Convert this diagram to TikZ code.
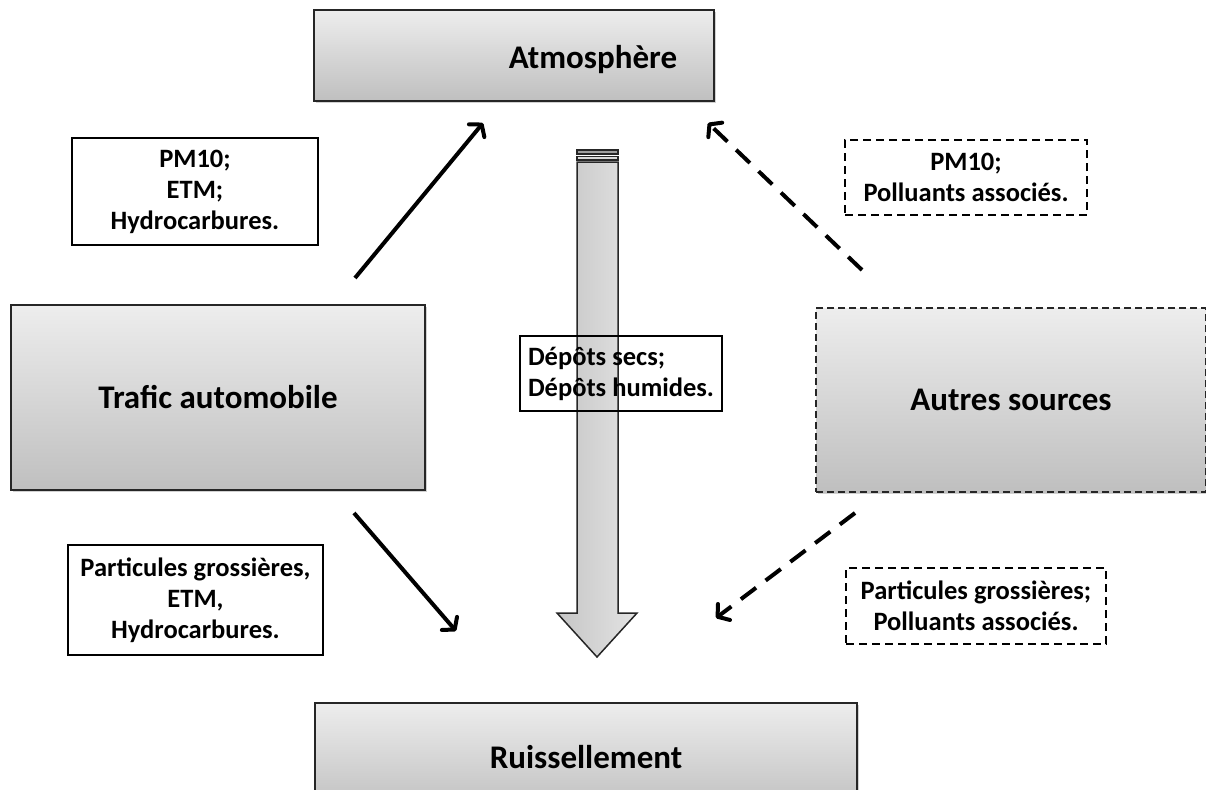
\documentclass[tikz,border=0pt]{standalone}
\usepackage{fontspec}
\setmainfont{Carlito}
\usetikzlibrary{arrows.meta,shadows}

\newcommand\bigfont{\fontsize{33}{38}\selectfont\bfseries}
\newcommand\labfont{\fontsize{26.5}{31}\selectfont\bfseries}

\tikzset{
  mainbox/.style={draw=black!85, line width=1.6pt, top color=gray!14, bottom color=gray!50,
    font=\bigfont, inner sep=0pt,
    drop shadow={shadow xshift=2pt, shadow yshift=-2pt, opacity=0.18, fill=black}},
  labelbox/.style={draw=black, line width=2pt, fill=white, font=\labfont, align=center, inner sep=0pt},
  dashbox/.style={labelbox, dash pattern=on 8pt off 5pt},
  flow/.style={line width=4pt, -{Straight Barb[length=8pt,width=20pt,round]}},
  flowdash/.style={flow, dash pattern=on 19pt off 12pt}
}

\begin{document}
\begin{tikzpicture}[x=1pt,y=-1pt]
\useasboundingbox (0,0) rectangle (1206,789);

% compartments
\node[mainbox, minimum width=400pt, minimum height=91pt,
      label={[font=\bigfont, xshift=79pt, yshift=-4pt]center:Atmosphère}] (atm) at (514,55.5) {};
\node[mainbox, minimum width=414pt, minimum height=185pt] (traf) at (218,397.5) {Trafic automobile};
\node[mainbox, dash pattern=on 7pt off 4pt, line width=1.4pt, minimum width=390pt, minimum height=184pt] (autres) at (1011,400) {Autres sources};
\node[mainbox, minimum width=542pt, minimum height=108pt] (ruis) at (586,757) {Ruissellement};

% flux labels
\node[labelbox, minimum width=246pt, minimum height=107pt] (l1) at (195,191.5) {PM10;\\ETM;\\Hydrocarbures.};
\node[labelbox, minimum width=255pt, minimum height=110pt] (l2) at (195.5,600) {Particules grossières,\\ETM,\\Hydrocarbures.};
\node[dashbox, minimum width=242pt, minimum height=75pt] (l3) at (966,177.5) {\fontsize{26.5}{33}\selectfont PM10;\\Polluants associés.};
\node[dashbox, minimum width=260pt, minimum height=76pt] (l4) at (976,606) {Particules grossières;\\Polluants associés.};

% arrow end points
\coordinate (t1s) at (355,278);  \coordinate (t1e) at (483,123);
\coordinate (t2s) at (354,513);  \coordinate (t2e) at (456,631);
\coordinate (a1s) at (862,270);  \coordinate (a1e) at (708,123);
\coordinate (a2s) at (855,513);  \coordinate (a2e) at (716,618);

\draw[flow] (t1s) -- (t1e);
\draw[flow] (t2s) -- (t2e);
\draw[flowdash] (a1s) -- (a1e);
\draw[flowdash] (a2s) -- (a2e);

% deposition arrow
\path[draw=black!85, line width=1.5pt, fill=gray!75] (577,150) rectangle (618,154);
\path[draw=black!85, line width=1.5pt, fill=gray!30] (577,156.5) rectangle (618,160);
\path[draw=black!85, line width=1.5pt, line join=miter, left color=gray!45, right color=gray!22]
  (577,162) -- (618,162) -- (618,613) -- (637,613) -- (597,657) -- (557,613) -- (577,613) -- cycle;

\node[draw=black, line width=2pt, font=\labfont, align=left, inner sep=0pt,
      minimum width=202pt, minimum height=75pt] (dep) at (621,373.5)
  {\fontsize{26.5}{28}\selectfont Dépôts secs;\\Dépôts humides.};
\end{tikzpicture}
\end{document}
